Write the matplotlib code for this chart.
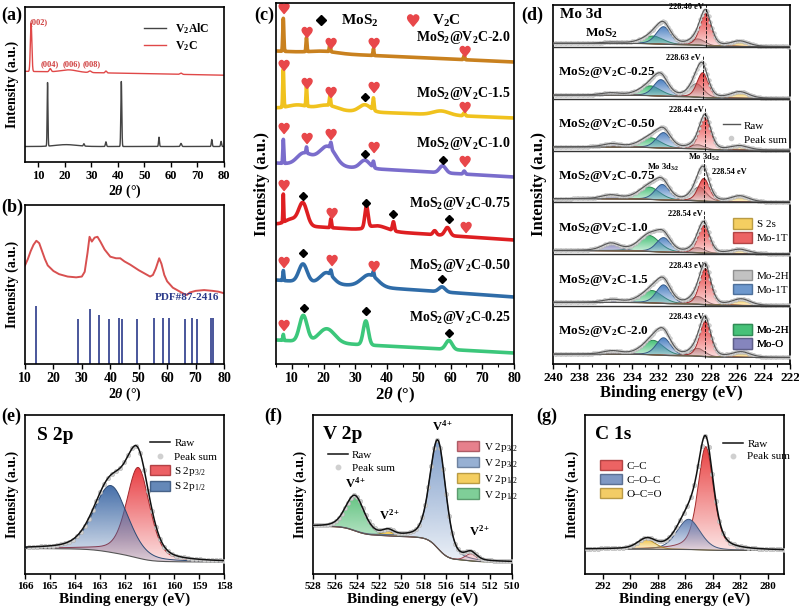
import numpy as np
import matplotlib
matplotlib.use("Agg")
import matplotlib.pyplot as plt
import matplotlib.colors as mcolors
from matplotlib.patches import PathPatch, Patch
from matplotlib.path import Path
from matplotlib.lines import Line2D
from matplotlib.textpath import TextPath
from matplotlib.font_manager import FontProperties
from matplotlib.ticker import MultipleLocator

plt.rcParams.update({
    "font.family": ["Liberation Serif", "DejaVu Serif"],
    "font.weight": "bold",
    "axes.labelweight": "bold",
    "mathtext.fontset": "custom",
    "mathtext.rm": "Liberation Serif:bold",
    "mathtext.it": "Liberation Serif:italic:bold",
    "mathtext.bf": "Liberation Serif:bold",
    "axes.linewidth": 1.2,
    "xtick.major.width": 1.0,
    "xtick.minor.width": 0.8,
    "xtick.major.size": 3.5,
    "xtick.minor.size": 2,
})

# ---------------- data ----------------
# (a) XRD, peaks as (position, height, sigma) in axes-fraction units
v2alc_base = 0.10
v2alc_pk = [(13.5, 0.41, 0.15), (20.5, 0.012, 4.0), (27.2, 0.015, 0.2), (35.5, 0.03, 0.2),
            (41.3, 0.42, 0.18), (55.5, 0.06, 0.17), (63.8, 0.02, 0.25), (75.4, 0.045, 0.18),
            (78.9, 0.033, 0.18)]
v2c_base = (0.585, 0.56)
v2c_pk = [(7.3, 0.31, 0.28), (14.5, 0.02, 0.35), (21.5, 0.015, 3.0), (29.5, 0.01, 0.5),
          (35.5, 0.012, 0.3), (63.8, 0.008, 0.4)]
hkl_labels = ["(002)", "(004)", "(006)", "(008)"]
hkl_pos = [(10.3, 0.90), (14.5, 0.63), (22.7, 0.63), (30.0, 0.63)]

# (b) XRD of MoS2 and PDF#87-2416 reference lines
b_x = [10, 11, 12, 13, 14, 15, 16, 17, 18, 20, 22, 25, 28, 30, 31, 32, 32.7, 33.5, 34.5, 35.5,
       36.5, 38, 40, 42, 43.5, 45, 47, 50, 52, 54, 55, 56, 57.2, 58, 59, 60, 62, 64, 66, 67,
       68, 70, 73, 76, 78, 80]
b_y = [0.62, 0.66, 0.71, 0.75, 0.775, 0.76, 0.71, 0.66, 0.62, 0.585, 0.565, 0.55, 0.545, 0.55,
       0.58, 0.70, 0.80, 0.77, 0.795, 0.80, 0.77, 0.72, 0.675, 0.665, 0.665, 0.645, 0.625,
       0.59, 0.57, 0.55, 0.56, 0.60, 0.665, 0.63, 0.56, 0.52, 0.48, 0.46, 0.44, 0.435, 0.45,
       0.46, 0.465, 0.46, 0.455, 0.445]
pdf_x = [14.0, 28.6, 32.8, 35.9, 39.4, 43.2, 44.0, 49.5, 55.3, 58.5, 60.5, 66.4, 68.7, 70.5, 75.5, 76.2]
pdf_h = [0.365, 0.28, 0.346, 0.31, 0.28, 0.29, 0.28, 0.28, 0.29, 0.29, 0.29, 0.28, 0.29, 0.28, 0.29, 0.29]

# (c) XRD of composites (pixel-height units)
c_names = ["MoS$_\\mathregular{2}$@V$_\\mathregular{2}$C-2.0", "MoS$_\\mathregular{2}$@V$_\\mathregular{2}$C-1.5",
           "MoS$_\\mathregular{2}$@V$_\\mathregular{2}$C-1.0", "MoS$_\\mathregular{2}$@V$_\\mathregular{2}$C-0.75",
           "MoS$_\\mathregular{2}$@V$_\\mathregular{2}$C-0.50", "MoS$_\\mathregular{2}$@V$_\\mathregular{2}$C-0.25"]
c_colors = ["#c9811f", "#f0c21e", "#7a6dcc", "#de1f22", "#2f6ca8", "#3cc77b"]
c_base = [(313, 302), (256, 246), (201, 187), (140, 124), (84, 67), (24, 11)]
c_peaks = [
    [(7.3, 33, .17), (14.6, 14, .15), (22.0, 9, .18), (35.7, 7, .15), (64.3, 4, .2), (20, 2, 4)],
    [(7.3, 38, .17), (14.6, 20, .15), (22.0, 10, .2), (21, 5, 3), (33, 7, 1.8), (35.7, 12, .2),
     (57, 4, 2.5), (64.3, 3, .3), (12, 4, 3)],
    [(7.3, 24, .15), (13.5, 10, 2), (14.6, 6, .15), (21.5, 18, 2.3), (22.3, 6, .2), (33, 8, 1.5),
     (35.7, 6, .2), (57.5, 7, 1), (64.3, 3, .3), (17.5, 6, 2.5)],
    [(7.3, 28, .12), (13.5, 22, 1.3), (22.3, 9, .2), (33.5, 22, .5), (37, 5, 3), (42, 9, .3),
     (55, 4, .5), (59, 8, .8), (10, 6, 2)],
    [(7.3, 10, .15), (13.5, 18, 1.3), (21, 11, 2), (22.3, 5, .2), (34.5, 12, 2.5), (35.7, 5, .2),
     (57.3, 5, 1)],
    [(7.3, 6, .15), (13.6, 26, 1.2), (21, 14, 2.5), (33.3, 24, .8), (59.5, 9, 1)],
]
c_label_y = [326, 271, 220, 161, 98, 46]
heart_pts = [[(7.3, 356), (14.6, 332), (22, 321), (35.7, 321), (64.3, 313)],
             [(7.3, 299), (14.6, 281), (22, 272), (35.7, 277), (64.3, 257)],
             [(7.3, 236), (14.6, 226), (22, 230), (35.7, 217), (64.3, 203)],
             [(7.3, 179), (22.3, 151), (64.5, 137)],
             [(7.3, 102), (22.3, 104), (35.7, 98)],
             [(7.3, 39)]]
diamond_pts = [[], [(33, 267)], [(33, 210), (57.5, 204)],
               [(13.5, 168), (33.5, 161), (42, 150), (59.5, 145)],
               [(13.5, 111), (57.3, 85)],
               [(13.7, 56), (33.3, 53), (59.5, 31)]]

# (d) Mo 3d fits, one row per sample (heights in row units)
d_names = ["MoS$_\\mathregular{2}$", "MoS$_\\mathregular{2}$@V$_\\mathregular{2}$C-0.25",
           "MoS$_\\mathregular{2}$@V$_\\mathregular{2}$C-0.50", "MoS$_\\mathregular{2}$@V$_\\mathregular{2}$C-0.75",
           "MoS$_\\mathregular{2}$@V$_\\mathregular{2}$C-1.0", "MoS$_\\mathregular{2}$@V$_\\mathregular{2}$C-1.5",
           "MoS$_\\mathregular{2}$@V$_\\mathregular{2}$C-2.0"]
red_c = [228.40, 228.63, 228.44, 228.54, 228.54, 228.43, 228.43]
red_h = [0.62, 0.48, 0.62, 0.44, 0.53, 0.70, 0.68]
gray_c = [229.0, 229.1, 229.0, 228.9, 229.0, 229.0, 229.0]
gray_h = [0.12, 0.26, 0.08, 0.27, 0.10, 0.15, 0.15]
blue_c = [231.6, 231.8, 231.6, 231.7, 231.6, 231.6, 231.6]
blue_h = [0.34, 0.32, 0.30, 0.30, 0.28, 0.36, 0.34]
green_c = [232.4, 232.6, 232.6, 232.7, 232.7, 232.5, 232.4]
green_h = [0.15, 0.19, 0.19, 0.24, 0.31, 0.24, 0.28]
purple_c = [235.5, 235.6, 235.5, 235.6, 235.6, 235.5, 235.5]
purple_h = [0.02, 0.04, 0.06, 0.07, 0.14, 0.05, 0.06]
yellow_c = [225.8, 225.8, 225.8, 225.8, 225.8, 225.7, 225.7]
yellow_h = [0.10, 0.12, 0.08, 0.11, 0.08, 0.12, 0.10]

# (e) S 2p
s_c = [161.45, 162.55]
s_h = [0.57, 0.42]
s_w = [1.1, 1.6]
# (f) V 2p: green, yellow, blue, red
v_c = [524.2, 521.2, 516.7, 513.7]
v_h = [0.22, 0.03, 0.68, 0.045]
v_w = [2.0, 1.2, 1.7, 1.2]
# (g) C 1s: C-C, C-O-C, O-C=O
cc_c = [284.5, 285.75, 288.8]
cc_h = [0.65, 0.19, 0.06]
cc_w = [1.35, 2.0, 1.5]

RED, BLUE, GREEN, GRAY, YELLOW, PURPLE = "#e83c3c", "#4a7fc1", "#3fbf73", "#b3b3b3", "#f2c23a", "#8080bb"


# ---------------- helpers ----------------
def gauss(x, c, h, s):
    return h * np.exp(-0.5 * ((x - c) / s) ** 2)


def pv(x, c, h, fw, eta=0.3):
    u = (x - c) / fw
    return h * ((1 - eta) * np.exp(-4 * np.log(2) * u ** 2) + eta / (1 + 4 * u ** 2))


def shirley(x, y, lo, hi):
    cs = np.cumsum(y)
    return lo + (hi - lo) * cs / cs[-1]


def darker(color, f=0.7):
    return tuple(np.array(mcolors.to_rgb(color)) * f)


def grad_fill(ax, x, lo, hi, color, z):
    verts = np.column_stack([np.r_[x, x[::-1]], np.r_[hi, lo[::-1]]])
    patch = PathPatch(Path(verts), transform=ax.transData, facecolor="none", edgecolor="none")
    ax.add_patch(patch)
    img = np.ones((100, 1, 4))
    img[:, 0, :3] = mcolors.to_rgb(color)
    img[:, 0, 3] = np.linspace(0.15, 0.97, 100)
    im = ax.imshow(img, extent=(x.min(), x.max(), lo.min(), hi.max()), origin="lower",
                   aspect="auto", zorder=z, interpolation="bilinear")
    im.set_clip_path(patch)
    ax.plot(x, hi, color=darker(color), lw=0.7, zorder=z + 0.1)


tp = TextPath((0, 0), "\u2665", prop=FontProperties(family="DejaVu Sans"))
v = tp.vertices.copy()
v -= (v.max(0) + v.min(0)) / 2
HEART = Path(v, tp.codes)

W, H = 799, 612
fig = plt.figure(figsize=(W / 100, H / 100), dpi=100)


def add_ax(l, r, t, b):
    return fig.add_axes([l / W, (H - b) / H, (r - l) / W, (b - t) / H])


def style(ax, fs=9):
    ax.set_yticks([])
    ax.tick_params(axis="x", labelsize=fs, pad=2)
    for lab in ax.get_xticklabels():
        lab.set_fontweight("bold")


leg_kw = dict(frameon=False, prop={"weight": "normal", "size": 8}, handletextpad=0.4,
              labelspacing=0.25, borderpad=0.1)

# ---------------- (a) ----------------
ax = add_ax(25, 224, 7, 162)
xa = np.linspace(5, 80, 3000)
ya = v2alc_base + sum(gauss(xa, *p) for p in v2alc_pk)
yb = np.interp(xa, [5, 80], v2c_base) + sum(gauss(xa, *p) for p in v2c_pk)
ax.plot(xa, ya, color="#444444", lw=1.0, label="V$_\\mathregular{2}$AlC")
ax.plot(xa, yb, color="#e04848", lw=1.0, label="V$_\\mathregular{2}$C")
for t, (px, py) in zip(hkl_labels, hkl_pos):
    ax.text(px, py, t, color="#d04040", fontsize=6, ha="center", va="center")
ax.set_xlim(5, 80)
ax.set_ylim(0, 1)
ax.set_xticks(range(10, 81, 10))
ax.set_xlabel("2$\\mathit{\\theta}$ (°)", fontsize=10, labelpad=1)
ax.set_ylabel("Intensity (a.u.)", fontsize=10, labelpad=4)
style(ax)
ax.legend(loc="upper right", bbox_to_anchor=(0.98, 0.98), frameon=False, fontsize=8.5,
          handlelength=1.8, labelspacing=0.3)

# ---------------- (b) ----------------
ax = add_ax(25, 224, 205, 364)
ax.plot(b_x, b_y, color="#d85050", lw=1.4)
ax.vlines(pdf_x, 0, pdf_h, color="#2b3a8a", lw=1.2)
ax.text(67, 0.42, "PDF#87-2416", color="#2b3a8a", fontsize=8, ha="center", va="center")
ax.set_xlim(10, 80)
ax.set_ylim(0, 1)
ax.set_xticks(range(10, 81, 10))
ax.set_xlabel("2$\\mathit{\\theta}$ (°)", fontsize=10, labelpad=1)
ax.set_ylabel("Intensity (a.u.)", fontsize=10, labelpad=4)
style(ax, 10)

# ---------------- (c) ----------------
ax = add_ax(276, 514, 3, 364)
xc = np.linspace(5, 80, 3000)
for i in range(6):
    yc = np.interp(xc, [5, 80], c_base[i]) + sum(gauss(xc, *p) for p in c_peaks[i])
    ax.plot(xc, yc, color=c_colors[i], lw=2.6)
    ax.text(79, c_label_y[i], c_names[i], fontsize=10, ha="right", va="center")
    if heart_pts[i]:
        hx, hy = zip(*heart_pts[i])
        ax.plot(hx, hy, ls="none", marker=HEART, ms=8, color="#e8474a")
    if diamond_pts[i]:
        dx, dy = zip(*diamond_pts[i])
        ax.plot(dx, dy, ls="none", marker="D", ms=4.5, color="k")
ax.set_xlim(5, 80)
ax.set_ylim(0, 361)
ax.set_xticks(range(10, 81, 10))
ax.xaxis.set_minor_locator(MultipleLocator(5))
ax.set_xlabel("2$\\mathit{\\theta}$ (°)", fontsize=12, labelpad=1)
ax.set_ylabel("Intensity (a.u.)", fontsize=12, labelpad=4)
style(ax, 10)
hd = [Line2D([], [], ls="none", marker="D", ms=5, color="k", label="MoS$_\\mathregular{2}$"),
      Line2D([], [], ls="none", marker=HEART, ms=9, color="#e8474a", label="V$_\\mathregular{2}$C")]
ax.legend(handles=hd, loc="upper center", bbox_to_anchor=(0.45, 1.01), ncol=2, frameon=False,
          fontsize=11, handletextpad=0.3, columnspacing=1.2)

# ---------------- (d) ----------------
ax = add_ax(553, 790, 5, 364)
xd = np.linspace(222, 240, 1400)
for i in range(7):
    base = 6 - i
    comps = [(green_c[i], green_h[i], 1.9, GREEN), (blue_c[i], blue_h[i], 1.3, BLUE),
             (purple_c[i], purple_h[i], 1.6, PURPLE), (gray_c[i], gray_h[i], 1.3, GRAY),
             (red_c[i], red_h[i], 1.0, RED), (yellow_c[i], yellow_h[i], 1.6, YELLOW)]
    ys = [pv(xd, c, h, fw) for c, h, fw, _ in comps]
    total = sum(ys)
    bg = shirley(xd, total, base + 0.005, base + 0.07)
    for k, (y, comp) in enumerate(zip(ys, comps)):
        grad_fill(ax, xd, bg, bg + y, comp[3], 2 + k * 0.2)
    ax.plot(xd[::10], (bg + total)[::10], ls="none", marker="o", ms=2.6, color="#d4d4d4",
            mec="#b0b0b0", mew=0.3, zorder=4)
    ax.plot(xd, bg + total, color="#555555", lw=0.8, zorder=4.2)
    ax.plot(xd, bg, color="#555555", lw=0.8, zorder=4.2)
    if base >= 1:
        ax.axhline(base, color="#333333", lw=1.0, zorder=5)
    ax.vlines(red_c[i], base, base + 0.85, colors="k", linestyles="--", lw=0.6, zorder=6)
    lab = "%.2f eV" % red_c[i]
    if i == 3:
        ax.text(red_c[i] - 0.6, base + 0.58, lab, fontsize=6, ha="left", va="center")
        ax.text(231.6, base + 0.68, "Mo 3d$_\\mathregular{3/2}$", fontsize=6, ha="center", va="center")
        ax.text(228.5, base + 0.86, "Mo 3d$_\\mathregular{5/2}$", fontsize=6, ha="center", va="center")
    else:
        ax.text(red_c[i] + 0.12, base + 0.78, lab, fontsize=6, ha="right", va="center")
    if i == 0:
        ax.text(239.5, base + 0.62, "Mo 3d", fontsize=11, ha="left", va="center")
        ax.text(237.6, base + 0.27, d_names[i], fontsize=9.5, ha="left", va="center")
    else:
        ax.text(239.6, base + 0.5, d_names[i], fontsize=9.5, ha="left", va="center")

d_legends = [
    (2, [Line2D([], [], color="#555555", lw=1, label="Raw"),
         Line2D([], [], ls="none", marker="o", ms=3, color="#cccccc", label="Peak sum")], 0.72),
    (4, [Patch(facecolor=YELLOW, edgecolor=darker(YELLOW), alpha=0.8, label="S 2s"),
         Patch(facecolor=RED, edgecolor=darker(RED), alpha=0.8, label="Mo-1T")], 0.82),
    (5, [Patch(facecolor=GRAY, edgecolor=darker(GRAY), alpha=0.8, label="Mo-2H"),
         Patch(facecolor=BLUE, edgecolor=darker(BLUE), alpha=0.8, label="Mo-1T")], 0.83),
    (6, [Patch(facecolor=GREEN, edgecolor=darker(GREEN), alpha=0.8, label="Mo-2H"),
         Patch(facecolor=PURPLE, edgecolor=darker(PURPLE), alpha=0.8, label="Mo-O")], 0.78),
]
for row, hnd, top in d_legends:
    lg = ax.legend(handles=hnd, loc="upper left",
                   bbox_to_anchor=(227.6 if row == 2 else 226.8, 6 - row + top),
                   bbox_transform=ax.transData, handlelength=1.5 if row == 2 else 1.7,
                   handleheight=1.1, **leg_kw)
    ax.add_artist(lg)

ax.set_xlim(240, 222)
ax.set_ylim(-0.12, 6.81)
ax.set_xticks(range(222, 241, 2))
ax.xaxis.set_minor_locator(MultipleLocator(1))
ax.set_xlabel("Binding energy (eV)", fontsize=12, labelpad=1)
ax.set_ylabel("Intensity (a.u.)", fontsize=12, labelpad=4)
style(ax, 9.5)


# ---------------- (e)(f)(g) ----------------
def xps(ax, x, cs, hs, ws, etas, colors, lo, hi, order):
    ys = [pv(x, c, h, w, e) for c, h, w, e in zip(cs, hs, ws, etas)]
    total = sum(ys)
    bg = shirley(x, total, lo, hi)
    for k in order:
        grad_fill(ax, x, bg, bg + ys[k], colors[k], 2 + k * 0.2)
    ax.plot(x, bg, color="#555555", lw=0.8, zorder=4)
    ax.plot(x[::18], (bg + total)[::18], ls="none", marker="o", ms=3.2, color="#d0d0d0",
            mec="#aaaaaa", mew=0.3, zorder=4.5, label="Peak sum")
    ax.plot(x, bg + total, color="#111111", lw=1.1, zorder=5, label="Raw")
    ax.set_ylim(0, 1)
    ax.set_ylabel("Intensity (a.u.)", fontsize=10, labelpad=4)
    ax.set_xlabel("Binding energy (eV)", fontsize=11, labelpad=1)


raw_h = [Line2D([], [], color="#111111", lw=1.1, label="Raw"),
         Line2D([], [], ls="none", marker="o", ms=3.2, color="#d0d0d0", label="Peak sum")]

ax = add_ax(25, 224, 415, 574)
xe = np.linspace(158, 166, 900)
xps(ax, xe, s_c, s_h, s_w, [0.4, 0.3], ["#e8383d", "#3f6aa6"], 0.075, 0.16, [1, 0])
ax.set_xlim(166, 158)
ax.set_xticks(range(158, 167))
style(ax, 8)
ax.text(0.06, 0.87, "S 2p", transform=ax.transAxes, fontsize=14, va="center")
ax.legend(handles=raw_h + [Patch(facecolor="#e8383d", edgecolor=darker("#e8383d"), alpha=0.8, label="S 2p$_\\mathregular{3/2}$"),
                           Patch(facecolor="#3f6aa6", edgecolor=darker("#3f6aa6"), alpha=0.8, label="S 2p$_\\mathregular{1/2}$")],
          loc="upper right", bbox_to_anchor=(1.0, 0.9), handlelength=1.8, handleheight=1.0, **leg_kw)

ax = add_ax(313, 512, 415, 574)
xf = np.linspace(510, 528, 1200)
fcols = ["#5fc27e", "#f2c23a", "#7d9cc9", "#e06070"]
xps(ax, xf, v_c, v_h, v_w, [0.3, 0.3, 0.35, 0.3], fcols, 0.075, 0.30, [0, 1, 2, 3])
ax.set_xlim(528, 510)
ax.set_xticks(range(510, 529, 2))
style(ax, 8)
ax.text(0.05, 0.88, "V 2p", transform=ax.transAxes, fontsize=14, va="center")
for t, px, py in [("V$^\\mathregular{4+}$", 524.1, 0.57), ("V$^\\mathregular{2+}$", 521.1, 0.37),
                  ("V$^\\mathregular{4+}$", 516.3, 0.93), ("V$^\\mathregular{2+}$", 512.9, 0.27)]:
    ax.text(px, py, t, fontsize=9, ha="center", va="center")
lg = ax.legend(handles=raw_h, loc="upper left", bbox_to_anchor=(0.04, 0.82), handlelength=1.8, **leg_kw)
ax.add_artist(lg)
ax.legend(handles=[Patch(facecolor=c, edgecolor=darker(c), alpha=0.8, label=l) for c, l in
                   zip(["#e06070", "#7d9cc9", "#f2c23a", "#5fc27e"],
                       ["V 2p$_\\mathregular{3/2}$", "V 2p$_\\mathregular{3/2}$", "V 2p$_\\mathregular{1/2}$", "V 2p$_\\mathregular{1/2}$"])],
          loc="upper left", bbox_to_anchor=(0.69, 0.88), handlelength=2.0, handleheight=1.1, **leg_kw)

ax = add_ax(585, 784, 415, 574)
xg = np.linspace(278.8, 293.3, 1000)
gcols = ["#e83c3c", "#5f7fb5", "#f0c040"]
xps(ax, xg, cc_c, cc_h, cc_w, [0.5, 0.3, 0.2], gcols, 0.148, 0.156, [0, 1, 2])
ax.set_xlim(293.3, 278.8)
ax.set_xticks(range(280, 293, 2))
style(ax, 8)
ax.text(0.05, 0.88, "C 1s", transform=ax.transAxes, fontsize=14, va="center")
lg = ax.legend(handles=raw_h, loc="upper left", bbox_to_anchor=(0.66, 0.89), handlelength=1.8, **leg_kw)
ax.add_artist(lg)
ax.legend(handles=[Patch(facecolor=c, edgecolor=darker(c), alpha=0.8, label=l) for c, l in
                   zip(gcols, ["C\u2013C", "C\u2013O\u2013C", "O\u2013C=O"])],
          loc="upper left", bbox_to_anchor=(0.04, 0.76), handlelength=2.0, handleheight=1.1, **leg_kw)

# panel letters
for t, px, py in [("(a)", 1, 15), ("(b)", 1, 207), ("(c)", 254, 15), ("(d)", 521, 15),
                  ("(e)", 1, 416), ("(f)", 264, 416), ("(g)", 536, 416)]:
    fig.text(px / W, 1 - py / H, t, fontsize=13, ha="left", va="center")

fig.savefig("out.png", dpi=100)
